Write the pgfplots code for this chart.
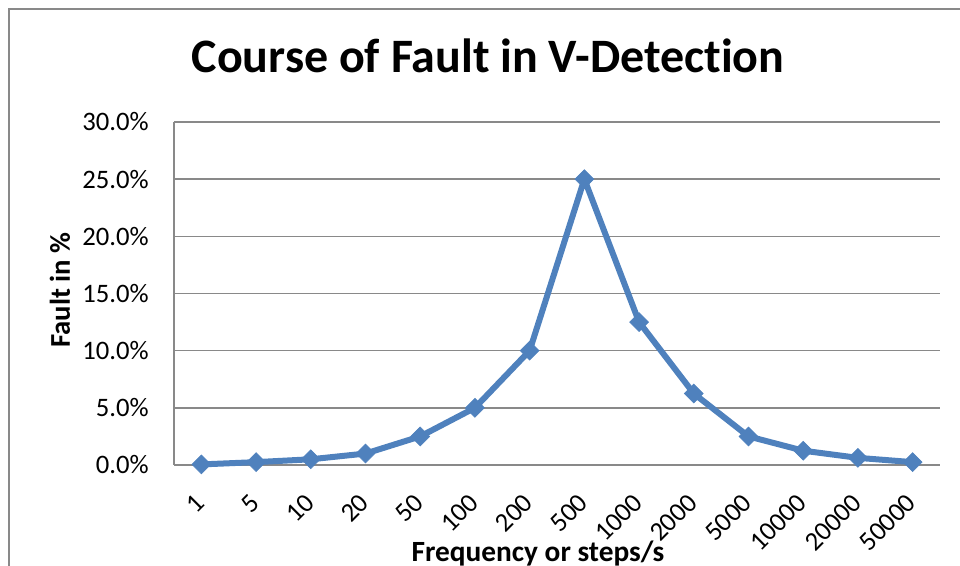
\documentclass[border=0pt]{standalone}
\usepackage{pgfplots}
\pgfplotsset{compat=1.18}
\usepackage{fontspec}
\setmainfont{Carlito}[Ligatures={NoCommon}]
\definecolor{lineblue}{HTML}{4F81BD}
\definecolor{gridgray}{HTML}{898989}

\begin{document}
\begin{tikzpicture}[x=0.75pt,y=0.75pt]
\useasboundingbox (0,0) rectangle (960,566);
\draw[gridgray, line width=1.1pt] (9,0) -- (9,557) -- (960,557);
\begin{axis}[
  at={(130.5pt,75.75pt)}, anchor=south west,
  scale only axis, width=574.5pt, height=257.25pt,
  xmin=-0.5, xmax=13.5, ymin=0, ymax=30,
  xtick={0,1,2,3,4,5,6,7,8,9,10,11,12,13},
  xticklabels={1,5,10,20,50,100,200,500,1000,2000,5000,10000,20000,50000},
  ytick={0,5,10,15,20,25,30},
  yticklabel={\pgfmathprintnumber[fixed,fixed zerofill,precision=1]{\tick}\%},
  /pgf/number format/assume math mode=true,
  ymajorgrids, grid style={gridgray, line width=1.1pt},
  axis x line*=bottom, axis y line*=left,
  axis line style={gridgray, line width=1.1pt},
  major tick length=0pt, tick style={draw=none},
  tick label style={font=\fontsize{20}{23}\selectfont},
  yticklabel style={xshift=-15.5pt},
  xticklabel style={xshift=-0.75pt, yshift=-25pt, rotate=45, anchor=east, inner sep=0pt},
  clip=false,
]
\addplot[color=lineblue, line width=4.5pt, mark=square*, mark size=5pt,
  mark options={rotate=45, fill=lineblue, draw=lineblue, line width=0.5pt}]
  coordinates {(0,0.05) (1,0.25) (2,0.5) (3,1) (4,2.5) (5,5) (6,10) (7,25)
  (8,12.5) (9,6.25) (10,2.5) (11,1.25) (12,0.625) (13,0.25)};
\end{axis}
\node[anchor=base, font=\fontsize{36}{40}\selectfont\bfseries] at (488,493) {Course of Fault in V-Detection};
\node[rotate=90, font=\fontsize{21.5}{24}\selectfont\bfseries] at (60,276) {Fault in \%};
\node[anchor=base, font=\fontsize{22}{26}\selectfont\bfseries] at (538,4) {Frequency or steps/s};
\end{tikzpicture}
\end{document}
